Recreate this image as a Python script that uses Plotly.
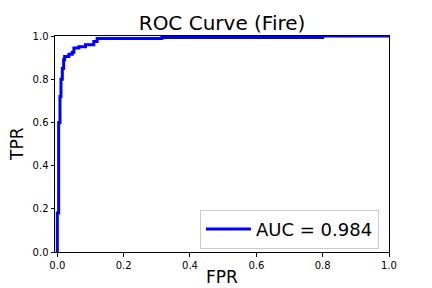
import plotly.graph_objects as go

# ROC curve points
fpr = [0.0, 0.0, 0.004, 0.004, 0.008, 0.008, 0.011, 0.011, 0.015, 0.015,
       0.019, 0.019, 0.022, 0.022, 0.035, 0.035, 0.045, 0.045, 0.05, 0.05,
       0.065, 0.065, 0.085, 0.085, 0.11, 0.11, 0.12, 0.12, 0.315, 0.315,
       0.8, 0.8, 1.0]
tpr = [0.0, 0.18, 0.18, 0.6, 0.6, 0.72, 0.72, 0.8, 0.8, 0.85,
       0.85, 0.89, 0.89, 0.905, 0.905, 0.915, 0.915, 0.925, 0.925, 0.945,
       0.945, 0.95, 0.95, 0.96, 0.96, 0.975, 0.975, 0.988, 0.988, 0.993,
       0.993, 1.0, 1.0]
auc_label = "AUC = 0.984"
tick_vals = [0.0, 0.2, 0.4, 0.6, 0.8, 1.0]
tick_text = ["0.0", "0.2", "0.4", "0.6", "0.8", "1.0"]

font = "DejaVu Sans"

fig = go.Figure()
fig.add_trace(go.Scatter(x=fpr, y=tpr, mode="lines", name=auc_label,
                         line=dict(color="#0000ff", width=3)))

axis_style = dict(showline=True, linecolor="black", linewidth=1, mirror=True,
                  ticks="outside", ticklen=3.5, tickcolor="black", showgrid=False,
                  zeroline=False, tickvals=tick_vals, ticktext=tick_text, automargin=False,
                  tickfont=dict(family=font, size=10, color="black"))

fig.update_xaxes(range=[-0.007, 1.0], **axis_style)
fig.update_yaxes(range=[0, 1.0], **axis_style)

# axis labels placed as annotations (matplotlib-style positions)
fig.add_annotation(text="FPR", xref="paper", yref="paper", x=0.5, y=-0.118,
                   xanchor="center", yanchor="middle", showarrow=False,
                   font=dict(family=font, size=17, color="black"))
fig.add_annotation(text="TPR", xref="paper", yref="paper", x=-0.114, y=0.5,
                   xanchor="center", yanchor="middle", showarrow=False, textangle=-90,
                   font=dict(family=font, size=17, color="black"))

fig.update_layout(
    width=432, height=288,
    margin=dict(l=55, r=43, t=36, b=36, autoexpand=False),
    paper_bgcolor="white", plot_bgcolor="white",
    title=dict(text="ROC Curve (Fire)", x=0.514, xanchor="center", y=0.92, yanchor="middle",
               font=dict(family=font, size=20, color="black")),
    showlegend=True,
    legend=dict(x=0.97, y=0.015, xanchor="right", yanchor="bottom", itemwidth=45,
                bgcolor="white", bordercolor="#cccccc", borderwidth=1,
                font=dict(family=font, size=18, color="black")),
)

# drop the page's default body margin so the figure sits at the window's corner
fig.write_html("out.html", config={"displayModeBar": False},
               post_script="document.body.style.margin='0';")
